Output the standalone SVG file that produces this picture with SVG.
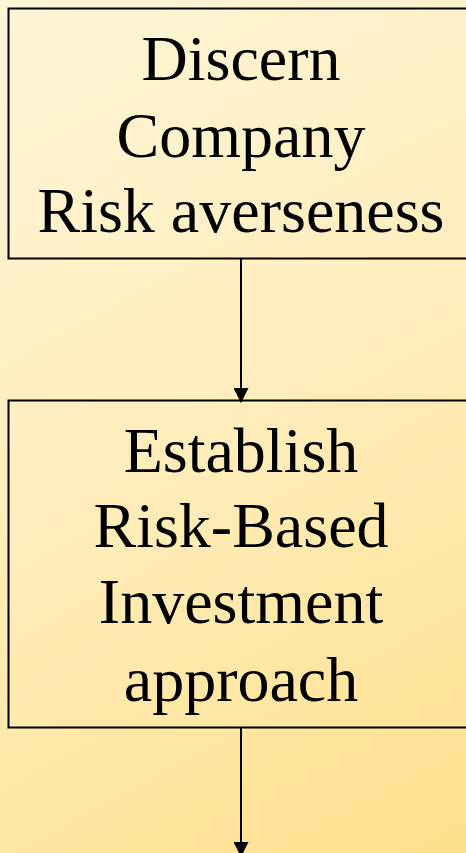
<svg xmlns="http://www.w3.org/2000/svg" width="466" height="853" viewBox="0 0 466 853">
  <style>
    .box { fill: none; stroke: #000; stroke-width: 2; }
    .label { font-family: "Liberation Serif", "Times New Roman", serif; font-size: 64px; fill: #000; text-anchor: middle; }
    .link { stroke: #000; stroke-width: 2; fill: none; marker-end: url(#head); }
  </style>
  <defs>
    <linearGradient id="bg" gradientUnits="userSpaceOnUse" x1="0" y1="0" x2="466" y2="853">
      <stop offset="0" stop-color="#FFF6D8"/>
      <stop offset="0.5" stop-color="#FFEDBB"/>
      <stop offset="1" stop-color="#FFE08C"/>
    </linearGradient>
    <marker id="head" markerWidth="15" markerHeight="15" refX="14" refY="7.5" orient="auto" markerUnits="userSpaceOnUse">
      <path d="M0,0 L15,7.5 L0,15 Z" fill="#000"/>
    </marker>
  </defs>
  <rect width="466" height="853" fill="url(#bg)"/>

  <g id="connectors">
    <line class="link" x1="241" y1="259" x2="241" y2="402"/>
    <line class="link" x1="241" y1="728" x2="241" y2="856"/>
  </g>

  <g id="node-discern">
    <rect class="box" x="8.5" y="8.5" width="470" height="250"/>
    <text class="label" x="241" y="80">Discern</text>
    <text class="label" x="241" y="157">Company</text>
    <text class="label" x="241" y="232">Risk averseness</text>
  </g>

  <g id="node-establish">
    <rect class="box" x="8.5" y="400.5" width="470" height="327"/>
    <text class="label" x="241" y="472">Establish</text>
    <text class="label" x="241" y="547">Risk-Based</text>
    <text class="label" x="241" y="623">Investment</text>
    <text class="label" x="241" y="701">approach</text>
  </g>
</svg>
